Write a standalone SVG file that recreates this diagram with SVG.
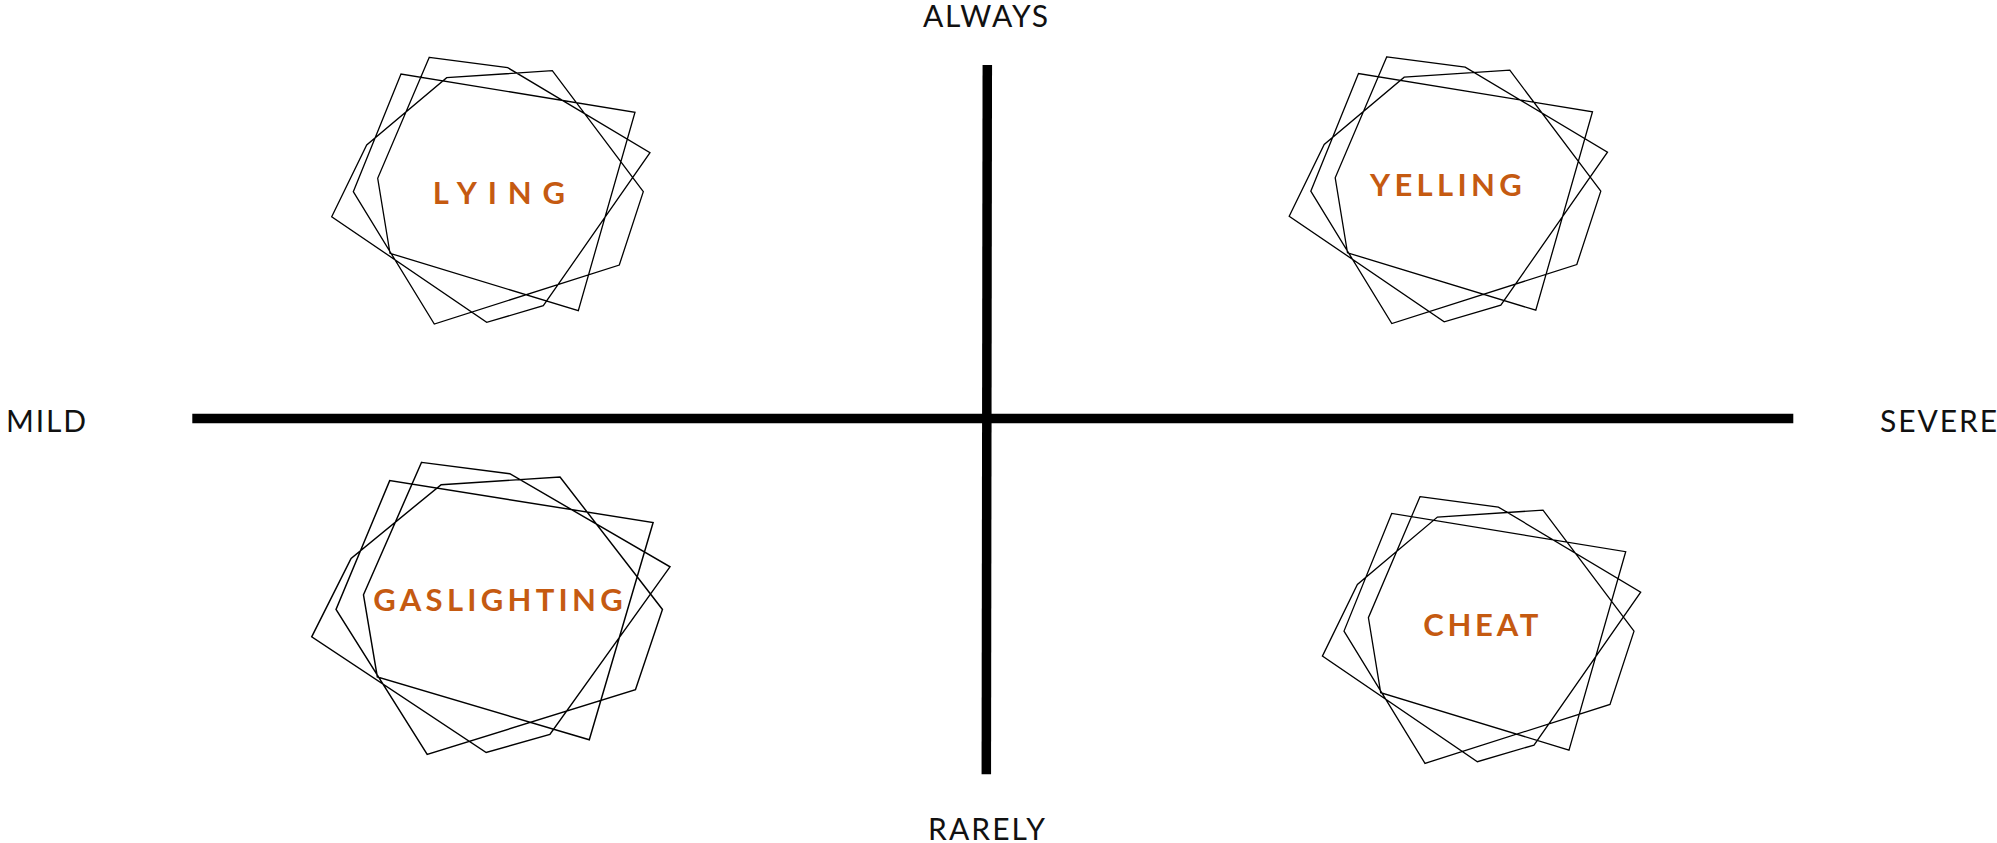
<svg xmlns="http://www.w3.org/2000/svg" xmlns:xlink="http://www.w3.org/1999/xlink" width="1997" height="843" viewBox="0 0 1997 843">
<style>
.bg{fill:#ffffff}
.frame{fill:none;stroke:#000;stroke-width:1.3;stroke-linejoin:miter;vector-effect:non-scaling-stroke}
.axis{stroke:#000;stroke-width:9.5;fill:none}
.ax{font-family:Lato,"Liberation Sans",Arial,sans-serif;font-size:30px;fill:#111}
.lbl{font-family:Lato,"Liberation Sans",Arial,sans-serif;font-size:31px;font-weight:bold;fill:#C55A11}
</style>
<defs>
<path id="shape" d="M429.3,57.3 L507.7,67.7 L650,152.7 L543.3,305.7 L486.7,322.3 L331.7,216.7 L366.7,145 L446.7,77.7 L552.3,70.7 L643.3,191.7 L619.3,265 L434.3,324 L353.3,191.7 L401,74 L635,112.3 L578.3,310.7 L390,253.3 L377.7,178.3 Z"/>
</defs>
<rect class="bg" x="0" y="0" width="1997" height="843"/>
<g id="connectors">
<line class="axis" x1="192.3" y1="418.5" x2="1793.3" y2="418.5"/>
<line class="axis" x1="987.3" y1="65" x2="986.3" y2="774.3"/>
</g>
<g id="axis-labels">
<text class="ax" x="923" y="27.3" textLength="125" lengthAdjust="spacing">ALWAYS</text>
<text class="ax" x="928" y="840" textLength="117" lengthAdjust="spacing">RARELY</text>
<text class="ax" x="6" y="432.3" textLength="80" lengthAdjust="spacing">MILD</text>
<text class="ax" x="1880" y="432.3" textLength="117" lengthAdjust="spacing">SEVERE</text>
</g>
<g id="node-lying">
<use xlink:href="#shape" href="#shape" class="frame"/>
<text class="lbl" x="432.7" y="204.3" textLength="132.3" lengthAdjust="spacing">LYING</text>
</g>
<g id="node-yelling">
<use xlink:href="#shape" href="#shape" class="frame" transform="translate(957.5,-0.5)"/>
<text class="lbl" x="1370" y="196" textLength="151.7" lengthAdjust="spacing">YELLING</text>
</g>
<g id="node-gaslighting">
<use xlink:href="#shape" href="#shape" class="frame" transform="matrix(1.1257,0,0,1.0949,-61.7,399.6)"/>
<text class="lbl" x="373.3" y="611" textLength="249.4" lengthAdjust="spacing">GASLIGHTING</text>
</g>
<g id="node-cheat">
<use xlink:href="#shape" href="#shape" class="frame" transform="translate(990.7,439.4)"/>
<text class="lbl" x="1423.3" y="636" textLength="115" lengthAdjust="spacing">CHEAT</text>
</g>
</svg>
